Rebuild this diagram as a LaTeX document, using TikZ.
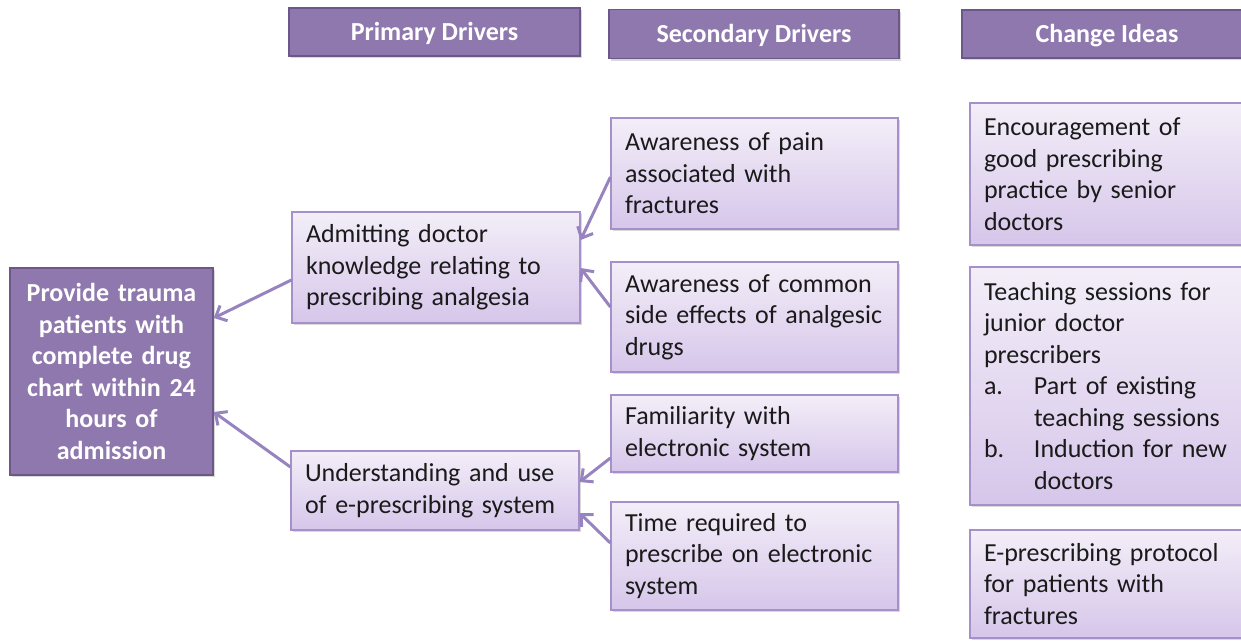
\documentclass[tikz,border=0pt]{standalone}
\usepackage{fontspec}
\setmainfont{Carlito}
\usetikzlibrary{arrows.meta,calc,shadows}
\definecolor{hdr}{HTML}{8E78AE}
\definecolor{hdrb}{HTML}{6C5888}
\definecolor{lt}{HTML}{F3EEF8}
\definecolor{lb}{HTML}{D6C6EA}
\definecolor{lbord}{HTML}{A590C9}
\definecolor{arrc}{HTML}{9783BF}
\definecolor{txt}{HTML}{1A1A1A}
\begin{document}
\begin{tikzpicture}[x=1pt,y=-1pt,
  base/.style={rectangle, inner xsep=14pt, inner ysep=0pt,
    font=\fontsize{26}{31.5}\selectfont,
    drop shadow={shadow xshift=1.5pt,shadow yshift=-2pt,opacity=0.3}},
  hbox/.style={base, fill=hdr, draw=hdrb, line width=1.5pt, text=white, align=center,
    font=\fontsize{26}{31.5}\selectfont\bfseries},
  headbox/.style={hbox, text height=17pt, text depth=0pt},
  lbox/.style={base, top color=lt, bottom color=lb, draw=lbord, line width=1.2pt, text=txt, align=left},
  con/.style={draw=arrc, line width=3pt, -{Straight Barb[length=9pt,width=17pt]}}
]
\useasboundingbox (0,0) rectangle (1241,641);
\clip (0,0) rectangle (1241,641);

% headers
\node[headbox, minimum width=291pt, minimum height=48pt] (h1) at (434.5,32) {Primary Drivers};
\node[headbox, minimum width=290pt, minimum height=49pt] (h2) at (754,34) {Secondary Drivers};
\node[headbox, minimum width=290pt, minimum height=48pt] (h3) at (1107,34) {Change Ideas};

% root
\node[hbox, minimum width=203pt, minimum height=207pt, text width=175pt] (root) at (111.5,371.5)
  {Provide trauma\\patients with\\complete drug\\chart within 24\\hours of\\admission};

% primary drivers
\node[lbox, minimum width=288pt, minimum height=111pt, text width=260pt] (adm) at (436,267.5)
  {Admitting doctor\\knowledge relating to\\prescribing analgesia};
\node[lbox, minimum width=288pt, minimum height=79pt, text width=260pt] (und) at (435,490.5)
  {Understanding and use\\of e-prescribing system};

% secondary drivers
\node[lbox, minimum width=287pt, minimum height=111pt, text width=259pt] (s1) at (754.5,173.5)
  {Awareness of pain\\associated with\\fractures};
\node[lbox, minimum width=287pt, minimum height=110pt, text width=259pt] (s2) at (754.5,317)
  {Awareness of common\\side effects of analgesic\\drugs};
\node[lbox, minimum width=287pt, minimum height=77pt, text width=259pt] (s3) at (754.5,433.5)
  {Familiarity with\\electronic system};
\node[lbox, minimum width=287pt, minimum height=108pt, text width=259pt] (s4) at (754.5,556)
  {Time required to\\prescribe on electronic\\system};

% change ideas
\node[lbox, minimum width=290pt, minimum height=142pt, text width=262pt] (c1) at (1115,174)
  {Encouragement of\\good prescribing\\practice by senior\\doctors};
\node[lbox, minimum width=290pt, minimum height=238pt, text width=262pt] (c2) at (1115,386)
  {Teaching sessions for\\junior doctor\\prescribers\\
   \makebox[50pt][l]{a.}Part of existing\\
   \hspace*{50pt}teaching sessions\\
   \makebox[50pt][l]{b.}Induction for new\\
   \hspace*{50pt}doctors};
\node[lbox, minimum width=290pt, minimum height=108pt, text width=262pt] (c3) at (1115,584)
  {E-prescribing protocol\\for patients with\\fractures};

% connectors
\draw[con] ($(adm.west)+(0,12.5)$) -- ($(root.east)+(0,-53.5)$);
\draw[con] ($(und.west)+(0,-23.5)$) -- ($(root.east)+(0,40.5)$);
\draw[con] ($(s1.west)+(0,3.5)$) -- ($(adm.east)+(0,-27.5)$);
\draw[con] ($(s2.west)+(0,-10)$) -- ($(adm.east)+(0,0.5)$);
\draw[con] ($(s3.west)+(0,24.5)$) -- ($(und.east)+(0,-8.5)$);
\draw[con] ($(s4.west)+(0,-13)$) -- ($(und.east)+(0,22.5)$);
\end{tikzpicture}
\end{document}
